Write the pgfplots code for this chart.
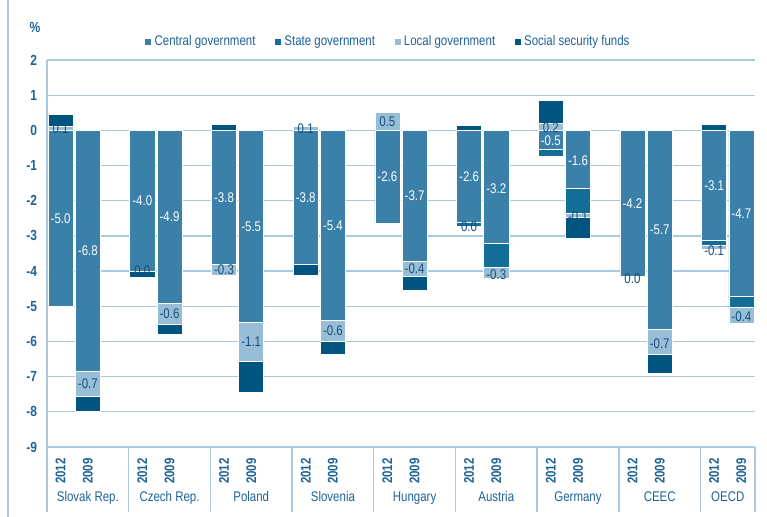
\documentclass[border=0pt]{standalone}
\usepackage{pgfplots}
\usepackage{pgfplotstable}
\pgfplotsset{compat=1.18}
\usepackage{fontspec}
\setmainfont{Liberation Sans}[FakeStretch=0.82]
\definecolor{cgov}{RGB}{58,128,168}
\definecolor{sgov}{RGB}{18,110,150}
\definecolor{lgov}{RGB}{152,190,215}
\definecolor{ssf}{RGB}{0,84,128}
\definecolor{gridc}{RGB}{170,200,225}
\definecolor{tickc}{RGB}{30,98,150}
\definecolor{lblc}{RGB}{20,80,125}
\newcommand\lblfont{\fontsize{10.5}{12}\selectfont}
\newcommand\yr[1]{\rotatebox{90}{#1}}

\pgfplotstableread{
x central state local ssf
0 -5.00 0 0 0
1 -6.85 0 -0.70 -0.45
3 -4.00 0 -0.02 -0.17
4 -4.92 0 -0.60 -0.28
6 -3.80 0 -0.32 0
7 -5.47 0 -1.10 -0.88
9 -3.80 0 0 -0.32
10 -5.40 0 -0.60 -0.36
12 -2.65 0 0 0
13 -3.72 0 -0.42 -0.42
15 -2.62 -0.10 -0.04 0
16 -3.22 -0.68 -0.32 0
18 -0.55 -0.20 0 0
19 -1.65 -0.72 -0.10 -0.60
21 -4.15 0 -0.02 0
22 -5.66 0 -0.72 -0.52
24 -3.12 -0.15 -0.12 0
25 -4.72 -0.32 -0.45 0
}\negdata

\pgfplotstableread{
x local ssf
0 0.10 0.35
6 0 0.18
9 0.10 0
12 0.50 0
15 0 0.13
18 0.20 0.65
24 0 0.17
}\posdata

\pgfplotstableread{
x y lab
0 -2.50 -5.0
1 -3.42 -6.8
3 -2.00 -4.0
4 -2.46 -4.9
6 -1.90 -3.8
7 -2.73 -5.5
9 -1.90 -3.8
10 -2.70 -5.4
12 -1.33 -2.6
13 -1.86 -3.7
15 -1.31 -2.6
16 -1.65 -3.2
18 -0.30 -0.5
19 -0.85 -1.6
21 -2.07 -4.2
22 -2.83 -5.7
24 -1.57 -3.1
25 -2.36 -4.7
}\cenlab

\pgfplotstableread{
x y lab
0 0.05 0.1
1 -7.20 -0.7
3 -3.98 0.0
4 -5.22 -0.6
6 -3.96 -0.3
7 -6.02 -1.1
9 0.05 0.1
10 -5.70 -0.6
12 0.25 0.5
13 -3.93 -0.4
15 -2.75 0.0
16 -4.09 -0.3
18 0.09 0.2
19 -2.44 -0.1
21 -4.22 0.0
22 -6.05 -0.7
24 -3.43 -0.1
25 -5.30 -0.4
}\loclab

\pgfplotsset{
  base/.style={
    at={(0,0)}, anchor=south west,
    scale only axis, width=531pt, height=290.25pt,
    xmin=-0.5, xmax=25.5, ymin=-9, ymax=2,
    bar width=0.92,
  },
  seg/.style={draw=white, line width=0.5pt, fill=#1},
}

\begin{document}
\begin{tikzpicture}
\useasboundingbox (-35.25pt,-52.5pt) rectangle (540pt,335.25pt);
\draw[gridc, line width=1pt] (-29.25pt,-52.5pt) -- (-29.25pt,335.25pt);

\begin{axis}[base, ybar stacked,
  clip=false,
  axis x line*=bottom, axis y line*=left,
  axis line style={gridc, line width=1pt},
  ymajorgrids, grid style={gridc, line width=1pt},
  ytick={-9,-8,-7,-6,-5,-4,-3,-2,-1,0,1,2},
  yticklabels={-9,-8,-7,-6,-5,-4,-3,-2,-1,0,1,2},
  yticklabel style={font=\bfseries\fontsize{11}{13}\selectfont, text=tickc, anchor=east, xshift=-4pt},
  major tick length=0pt,
  tick align=outside,
  xtick={0,1,3,4,6,7,9,10,12,13,15,16,18,19,21,22,24,25},
  xticklabels={\yr{2012},\yr{2009},\yr{2012},\yr{2009},\yr{2012},\yr{2009},\yr{2012},\yr{2009},\yr{2012},\yr{2009},\yr{2012},\yr{2009},\yr{2012},\yr{2009},\yr{2012},\yr{2009},\yr{2012},\yr{2009}},
  xticklabel style={font=\bfseries\fontsize{10.5}{12}\selectfont, text=tickc, anchor=north, yshift=-5pt},
  extra x ticks={1,4,7,10,13,16,19,22,24.5},
  extra x tick labels={Slovak Rep.,Czech Rep.,Poland,Slovenia,Hungary,Austria,Germany,CEEC,OECD},
  extra x tick style={major tick length=0pt, xticklabel style={font=\fontsize{10.5}{12}\selectfont, yshift=-25pt}},
  minor xtick={-0.5,2.5,5.5,8.5,11.5,14.5,17.5,20.5,23.5,25.5},
  minor tick length=48.75pt,
  minor tick style={gridc, line width=1pt},
  legend columns=4,
  legend style={at={(0.482,1.047)}, anchor=center, draw=none, fill=none,
    font=\fontsize{10.5}{12}\selectfont, text=tickc,
    /tikz/every even column/.append style={column sep=12pt}},
  legend image code/.code={\fill[#1] (0pt,-2.6pt) rectangle (5.2pt,2.6pt);},
]
\addplot[seg=cgov] table[x=x,y=central]{\negdata};
\addlegendentry{Central government}
\addplot[seg=sgov] table[x=x,y=state]{\negdata};
\addlegendentry{State government}
\addplot[seg=lgov] table[x=x,y=local]{\negdata};
\addlegendentry{Local government}
\addplot[seg=ssf] table[x=x,y=ssf]{\negdata};
\addlegendentry{Social security funds}
\node[font=\bfseries\fontsize{11}{13}\selectfont, text=tickc] at (rel axis cs:-0.017,1.083) {\%};
\end{axis}

\begin{axis}[base, ybar stacked, hide axis]
\addplot[seg=lgov] table[x=x,y=local]{\posdata};
\addplot[seg=ssf] table[x=x,y=ssf]{\posdata};
\end{axis}

\begin{axis}[base, hide axis, clip=false]
\addplot[only marks, mark=none, nodes near coords, point meta=explicit symbolic,
  nodes near coords align=center,
  every node near coord/.append style={text=white, font=\lblfont, inner sep=0pt}]
  table[x=x,y=y,meta=lab]{\cenlab};
\addplot[only marks, mark=none, nodes near coords, point meta=explicit symbolic,
  nodes near coords align=center,
  every node near coord/.append style={text=lblc, font=\lblfont, inner sep=0pt}]
  table[x=x,y=y,meta=lab]{\loclab};
\end{axis}
\end{tikzpicture}
\end{document}
